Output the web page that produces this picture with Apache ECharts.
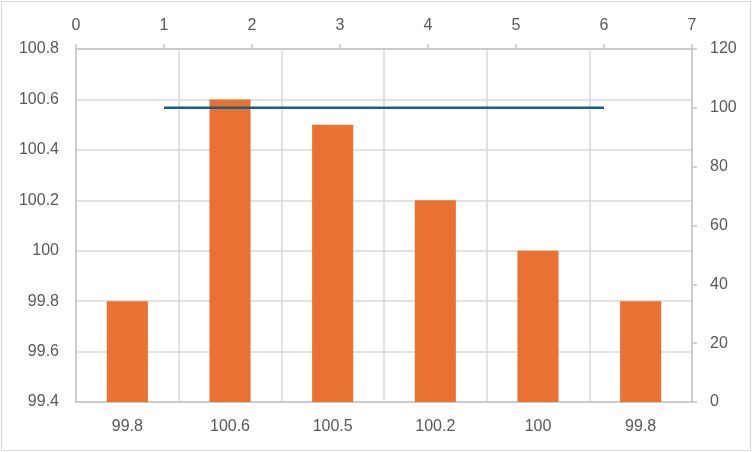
<!DOCTYPE html>
<html>
<head>
<meta charset="utf-8">
<script src="https://cdn.jsdelivr.net/npm/echarts@6/dist/echarts.min.js"></script>
<style>
  html, body { margin: 0; padding: 0; background: #fff; }
  #chart { position: absolute; left: 1px; top: 1px; width: 748px; height: 448px; border: 1.5px solid #d9d9d9; }
</style>
</head>
<body>
<div id="chart"></div>
<script>
// bars: category labels and values (left axis)
const categories = ['99.8', '100.6', '100.5', '100.2', '100', '99.8'];
const barValues = [99.8, 100.6, 100.5, 100.2, 100, 99.8];
// line on secondary axes (top x 0..7, right y 0..120)
const lineX = [1, 2, 3, 4, 5, 6];
const lineY = [100, 100, 100, 100, 100, 100];

const TEXT = '#595959', GRID = '#d9d9d9', AXIS = '#c4c4c4';
const FONT = { color: TEXT, fontSize: 16, fontFamily: 'Liberation Sans' };

const chart = echarts.init(document.getElementById('chart'), null, { renderer: 'canvas' });
chart.setOption({
  animation: false,
  grid: { left: 74, right: 58, top: 47, bottom: 48 },
  xAxis: [
    {
      type: 'category', position: 'bottom', data: categories,
      axisLine: { lineStyle: { color: AXIS, width: 1.5 } },
      axisTick: { show: false },
      axisLabel: { ...FONT, margin: 17 },
      splitLine: { show: true, lineStyle: { color: GRID, width: 1.5 } },
    },
    {
      type: 'value', position: 'top', min: 0, max: 7, interval: 1,
      axisLine: { show: true, lineStyle: { color: AXIS, width: 1.5 } },
      axisTick: { show: true, length: 5, lineStyle: { color: AXIS, width: 1.5 } },
      axisLabel: { ...FONT, margin: 15 },
      splitLine: { show: false },
    },
  ],
  yAxis: [
    {
      type: 'value', position: 'left', min: 99.4, max: 100.8, interval: 0.2,
      axisLine: { show: true, lineStyle: { color: AXIS, width: 1.5 } },
      axisTick: { show: false },
      axisLabel: { ...FONT, margin: 17, formatter: (v) => String(+(+v).toFixed(1)) },
      splitLine: { show: true, lineStyle: { color: GRID, width: 1.5 } },
    },
    {
      type: 'value', position: 'right', min: 0, max: 120, interval: 20,
      axisLine: { show: true, lineStyle: { color: AXIS, width: 1.5 } },
      axisTick: { show: true, length: 5, lineStyle: { color: AXIS, width: 1.5 } },
      axisLabel: { ...FONT, margin: 18 },
      splitLine: { show: false },
    },
  ],
  series: [
    {
      type: 'bar', xAxisIndex: 0, yAxisIndex: 0, data: barValues,
      barWidth: '40%', clip: true,
      itemStyle: { color: '#e97132' },
    },
    {
      type: 'line', xAxisIndex: 1, yAxisIndex: 1,
      data: lineX.map((x, i) => [x, lineY[i]]),
      symbol: 'none',
      lineStyle: { color: '#156082', width: 2.5 },
    },
  ],
});
</script>
</body>
</html>
